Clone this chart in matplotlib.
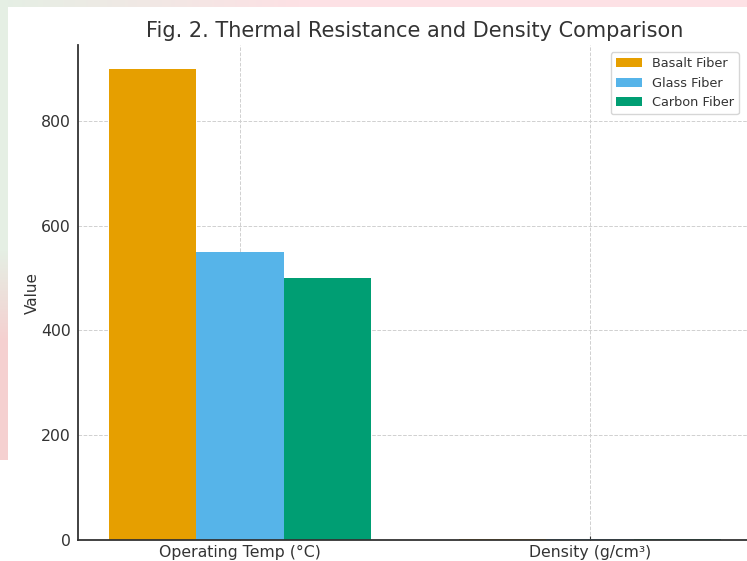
import matplotlib.pyplot as plt
import numpy as np

categories = ['Operating Temp (°C)', 'Density (g/cm³)']
fibers = ['Basalt Fiber', 'Glass Fiber', 'Carbon Fiber']
basalt = [900, 2.7]
glass = [550, 2.5]
carbon = [500, 1.8]
colors = ['#E69F00', '#56B4E9', '#009E73']

W, H = 747, 561
fig = plt.figure(figsize=(W / 100, H / 100), dpi=100)

# faint screenshot backdrop on the top and left edges
bg = fig.add_axes([0, 0, 1, 1], zorder=-5)
bg.axis('off')
img = np.ones((H, W, 3))
green = np.array([229, 239, 228]) / 255
pink_top = np.array([253, 225, 229]) / 255
pink_left = np.array([245, 208, 208]) / 255
t = np.linspace(0, 1, W)[:, None]
img[:7, :, :] = (green * (1 - np.clip(t * 2.5, 0, 1)) + pink_top * np.clip(t * 2.5, 0, 1))[None, :, :]
s = np.clip((np.arange(460) - 250) / 90, 0, 1)[:, None]
img[:460, :8, :] = (green * (1 - s) + pink_left * s)[:, None, :]
bg.imshow(img, extent=[0, W, H, 0], aspect='auto', interpolation='bilinear')
bg.set_xlim(0, W)
bg.set_ylim(H, 0)

ax = fig.add_axes([78 / W, (H - 540) / H, (752 - 78) / W, (540 - 45) / H])
ax.set_facecolor('white')

x = np.arange(len(categories))
width = 0.25
for i, (vals, name) in enumerate(zip([basalt, glass, carbon], fibers)):
    ax.bar(x + (i - 1) * width, vals, width, label=name, color=colors[i], zorder=2)

ax.set_xticks(x)
ax.set_xticklabels(categories)
ax.set_ylabel('Value', fontsize=11, color='#333333', labelpad=1)
ax.set_title('Fig. 2. Thermal Resistance and Density Comparison',
             fontsize=15, color='#333333', pad=5.5)

ax.grid(True, linestyle='--', color='#d0d0d0', linewidth=0.7, zorder=0)
ax.set_axisbelow(True)
for side in ['top', 'right']:
    ax.spines[side].set_visible(False)
for side in ['left', 'bottom']:
    ax.spines[side].set_color('#333333')
    ax.spines[side].set_linewidth(1.3)
ax.tick_params(axis='both', labelsize=11.3, colors='#333333', direction='in', length=3)
ax.tick_params(axis='y', length=0, pad=5)

ax.legend(loc='upper right', bbox_to_anchor=(739 / W, 1 - 52 / H),
          bbox_transform=fig.transFigure, borderaxespad=0, fontsize=9.3,
          labelcolor='#333333')

fig.savefig('out.png', dpi=100)
